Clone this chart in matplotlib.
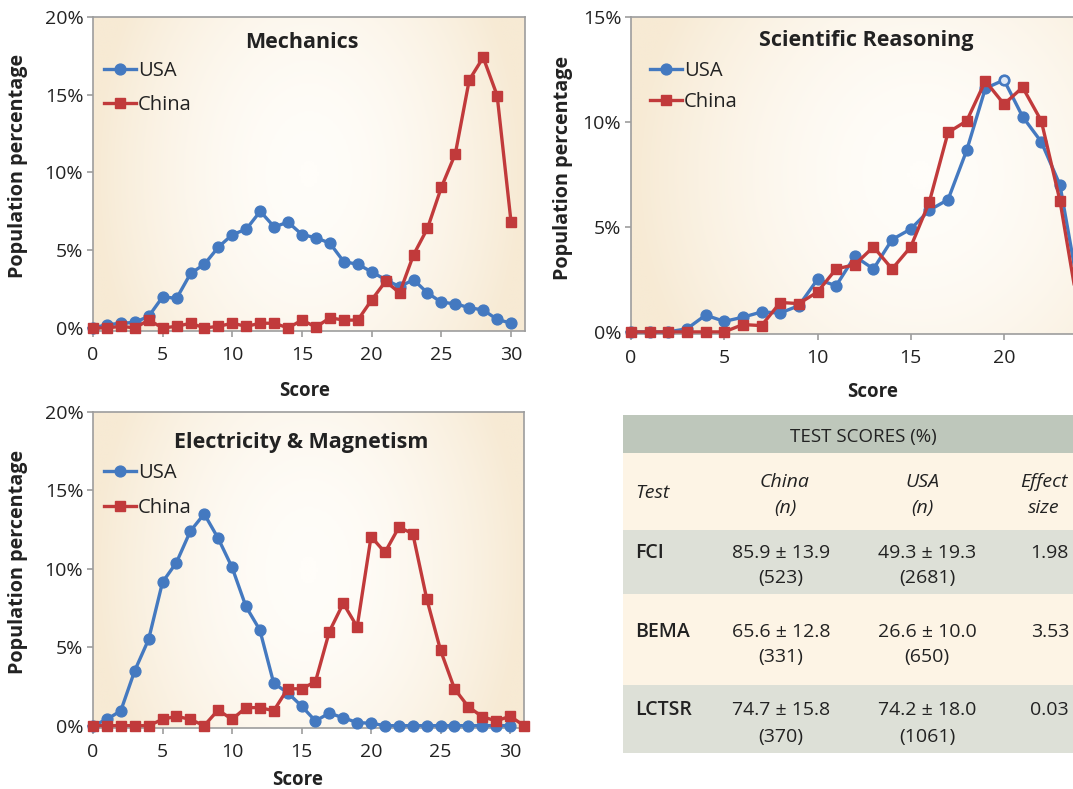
import matplotlib
matplotlib.use("Agg")
import matplotlib.pyplot as plt
import matplotlib.transforms as mtransforms
import numpy as np
from matplotlib.colors import LinearSegmentedColormap
from matplotlib.patches import Rectangle

plt.rcParams["font.family"] = ["Open Sans", "DejaVu Sans"]

# ---- data (percent of population per score) ----
mech_scores = list(range(0, 31))
mech_usa = [0, 0.2, 0.3, 0.35, 0.75, 2.0, 1.9, 3.5, 4.1, 5.2, 6.0, 6.35, 7.5, 6.5, 6.8, 6.0,
            5.8, 5.45, 4.25, 4.1, 3.6, 3.1, 2.65, 3.1, 2.25, 1.65, 1.55, 1.3, 1.15, 0.55, 0.3]
mech_china = [0, 0, 0.1, 0, 0.5, 0, 0.1, 0.3, 0, 0.1, 0.3, 0.1, 0.3, 0.3, 0, 0.5,
              0.05, 0.65, 0.5, 0.5, 1.8, 3.0, 2.25, 4.7, 6.4, 9.05, 11.2, 15.95, 17.4, 14.95, 6.8]

sci_scores = list(range(0, 25))
sci_usa = [0, 0, 0, 0.15, 0.8, 0.5, 0.7, 0.95, 0.9, 1.25, 2.5, 2.2, 3.6, 3.0, 4.4, 4.9,
           5.8, 6.3, 8.65, 11.6, 12.0, 10.25, 9.05, 7.0, 2.0]
sci_china = [0, 0, 0, 0, 0, 0, 0.35, 0.3, 1.4, 1.35, 1.9, 3.0, 3.2, 4.05, 3.0, 4.05,
             6.2, 9.5, 10.05, 11.95, 10.85, 11.65, 10.05, 6.25, 1.0]
sci_usa_open = [20]

em_usa_scores = list(range(0, 31))
em_usa = [0, 0.4, 0.95, 3.5, 5.5, 9.15, 10.4, 12.4, 13.5, 11.95, 10.1, 7.6, 6.1, 2.7, 2.1, 1.25,
          0.3, 0.8, 0.5, 0.2, 0.15, 0, 0, 0, 0, 0, 0, 0, 0, 0, 0]
em_china_scores = list(range(0, 32))
em_china = [0, 0, 0, 0, 0, 0.4, 0.6, 0.4, 0, 1.0, 0.4, 1.15, 1.15, 0.95, 2.35, 2.35,
            2.8, 6.0, 7.8, 6.3, 12.05, 11.05, 12.65, 12.25, 8.1, 4.8, 2.35, 1.2, 0.57, 0.3, 0.6, 0]

# ---- table ----
tests = ["FCI", "BEMA", "LCTSR"]
china_mean = ["85.9", "65.6", "74.7"]
china_sd = ["13.9", "12.8", "15.8"]
china_n = ["523", "331", "370"]
usa_mean = ["49.3", "26.6", "74.2"]
usa_sd = ["19.3", "10.0", "18.0"]
usa_n = ["2681", "650", "1061"]
effect = ["1.98", "3.53", "0.03"]

BLUE = "#4479c0"
RED = "#c13a3b"
TXT = "#222222"
W, H = 1073, 789

fig = plt.figure(figsize=(W / 100, H / 100), dpi=100)


def px_axes(left, top, right, bottom):
    return fig.add_axes([left / W, 1 - bottom / H, (right - left) / W, (bottom - top) / H])


bg_cmap = LinearSegmentedColormap.from_list("bg", ["#fffdf9", "#f7ead4"])
gx, gy = np.meshgrid(np.linspace(-1, 1, 200), np.linspace(-1, 1, 200))
grad = np.clip(np.sqrt(gx ** 2 + gy ** 2 * 0.25), 0, 1) ** 1.8


def style(ax, ymax, xmax, ylab_x, xlab_xy):
    ax.imshow(grad, cmap=bg_cmap, extent=[0, 1, 0, 1], transform=ax.transAxes,
              aspect="auto", zorder=0, interpolation="bilinear")
    for s in ax.spines.values():
        s.set_color("#9d9d9d")
        s.set_linewidth(1.2)
    ax.set_xticks(range(0, xmax + 1, 5))
    ax.set_yticks(range(0, ymax + 1, 5))
    ax.set_yticklabels([f"{v}%" for v in range(0, ymax + 1, 5)])
    ax.tick_params(axis="both", colors="#9d9d9d", labelcolor=TXT, labelsize=14, length=4, width=1.2)
    ax.tick_params(axis="x", pad=7)
    ax.tick_params(axis="y", pad=3)
    ax.set_ylabel("Population percentage", fontsize=14.2, fontweight="bold", color=TXT)
    ax.yaxis.set_label_coords(ylab_x, 0.525)
    ax.set_xlabel("Score", fontsize=13.5, fontweight="bold", color=TXT)
    ax.xaxis.set_label_coords(*xlab_xy)


def series(ax, xs, ys, color, marker, ms, label):
    ax.plot(xs, ys, color=color, lw=2.4, marker=marker, ms=ms, mec=color, mfc=color,
            clip_on=False, zorder=3, label=label)


def legend(ax, x, y, spacing):
    ax.legend(loc="upper left", bbox_to_anchor=(x / W, 1 - y / H), bbox_transform=fig.transFigure,
              frameon=False, fontsize=14.5, handlelength=1.6, handletextpad=0.1,
              labelspacing=spacing, borderpad=0, borderaxespad=0, numpoints=1,
              labelcolor=TXT)


# Mechanics
ax1 = px_axes(93, 17, 525, 331)
style(ax1, 20, 30, -0.15, (0.49, -0.16))
ax1.set_xlim(0, 31)
ax1.set_ylim(-0.2, 20)
series(ax1, mech_scores, mech_usa, BLUE, "o", 7.8, "USA")
series(ax1, mech_scores, mech_china, RED, "s", 7.6, "China")
ax1.text(15.0, 0.92, "Mechanics", transform=mtransforms.blended_transform_factory(ax1.transData, ax1.transAxes),
         ha="center", va="center", fontsize=15.5, fontweight="bold", color=TXT)
legend(ax1, 104, 61, 0.7)

# Scientific reasoning (axes runs past the right edge of the figure, as in the source)
ax2 = px_axes(631, 17, 631 + 31 * 18.65, 334)
style(ax2, 15, 20, -0.101, (0.418, -0.152))
ax2.set_xlim(0, 31)
ax2.set_ylim(-0.1, 15)
series(ax2, sci_scores, sci_usa, BLUE, "o", 7.8, "USA")
for i in sci_usa_open:
    ax2.plot(sci_scores[i], sci_usa[i], marker="o", ms=6.5, mfc="#dde8f6", mec=BLUE, mew=1.5, zorder=3.5)
series(ax2, sci_scores, sci_china, RED, "s", 7.6, "China")
ax2.text(12.6, 0.925, "Scientific Reasoning", transform=mtransforms.blended_transform_factory(ax2.transData, ax2.transAxes),
         ha="center", va="center", fontsize=15.5, fontweight="bold", color=TXT)
legend(ax2, 650, 61, 0.55)

# Electricity & Magnetism
ax3 = px_axes(93, 412, 524, 728)
style(ax3, 20, 30, -0.15, (0.475, -0.133))
ax3.set_xlim(0, 31)
ax3.set_ylim(-0.15, 20)
series(ax3, em_usa_scores, em_usa, BLUE, "o", 7.8, "USA")
series(ax3, em_china_scores, em_china, RED, "s", 7.6, "China")
ax3.text(15.0, 0.905, "Electricity & Magnetism", transform=mtransforms.blended_transform_factory(ax3.transData, ax3.transAxes),
         ha="center", va="center", fontsize=15.5, fontweight="bold", color=TXT)
legend(ax3, 104, 463, 0.75)

# Table drawn in pixel space
tb = px_axes(623, 415, 1073, 753)
tb.set_xlim(623, 1073)
tb.set_ylim(753, 415)
tb.axis("off")
bands = [(415, 453, "#bec7bb"), (453, 530, "#fdf4e5"), (530, 594, "#dde0d7"),
         (594, 685, "#fdf4e5"), (685, 753, "#dde0d7")]
for y0, y1, c in bands:
    tb.add_patch(Rectangle((623, y0), 450, y1 - y0, facecolor=c, edgecolor="none"))
fs = 14
tb.text(863, 437, "TEST SCORES (%)", ha="center", va="center", fontsize=13.5, color=TXT)
tb.text(635, 493, "Test", ha="left", va="center", fontsize=fs, style="italic", color=TXT)
tb.text(785, 482, "China", ha="center", va="center", fontsize=fs, style="italic", color=TXT)
tb.text(785, 508, "(n)", ha="center", va="center", fontsize=fs, style="italic", color=TXT)
tb.text(922, 482, "USA", ha="center", va="center", fontsize=fs, style="italic", color=TXT)
tb.text(922, 508, "(n)", ha="center", va="center", fontsize=fs, style="italic", color=TXT)
tb.text(1044, 482, "Effect", ha="center", va="center", fontsize=fs, style="italic", color=TXT)
tb.text(1044, 508, "size", ha="center", va="center", fontsize=fs, style="italic", color=TXT)
row_y = [(553, 578), (632, 657), (710, 737)]
for i, (ya, yb) in enumerate(row_y):
    tb.text(635, ya, tests[i], ha="left", va="center", fontsize=fs, fontweight="semibold", color=TXT)
    tb.text(781, ya, f"{china_mean[i]} \u00b1 {china_sd[i]}", ha="center", va="center", fontsize=fs, color=TXT)
    tb.text(781, yb, f"({china_n[i]})", ha="center", va="center", fontsize=fs, color=TXT)
    tb.text(927, ya, f"{usa_mean[i]} \u00b1 {usa_sd[i]}", ha="center", va="center", fontsize=fs, color=TXT)
    tb.text(927, yb, f"({usa_n[i]})", ha="center", va="center", fontsize=fs, color=TXT)
    tb.text(1069, ya, effect[i], ha="right", va="center", fontsize=fs, color=TXT)

fig.savefig("out.png", dpi=100)
